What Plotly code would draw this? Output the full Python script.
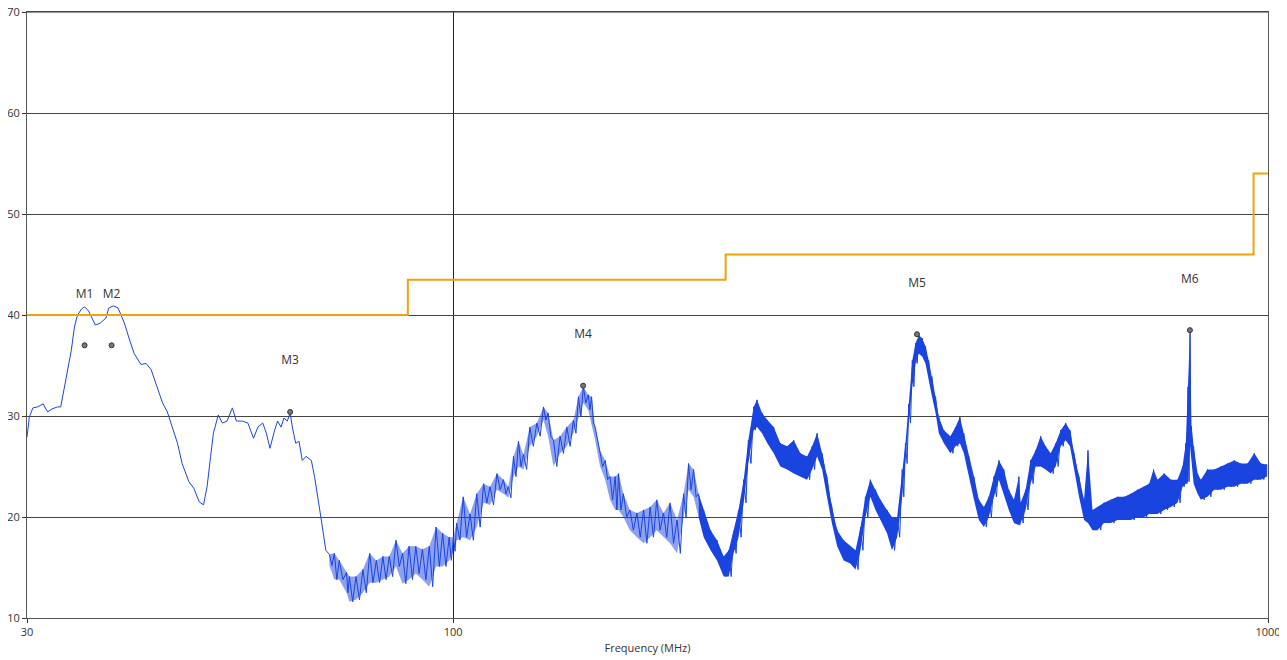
import plotly.graph_objects as go

# ---- smooth low-frequency part of the trace (MHz, dBuV/m) ----
smooth_freq = [30.0, 30.2, 30.5, 30.9, 31.4, 31.8, 32.2, 32.7, 33.0, 33.3, 33.7, 34.0, 34.3, 34.6,
               35.0, 35.3, 35.7, 36.4, 36.9, 37.5, 37.8, 38.3, 38.8, 39.5, 40.1, 40.6, 41.4, 42.0,
               42.6, 43.4, 44.0, 44.6, 45.2, 45.9, 46.5, 47.4, 48.1, 48.8, 49.4, 49.9, 50.4, 50.8,
               51.5, 52.1, 52.8, 53.6, 54.2, 55.1, 56.0, 56.9, 57.6, 58.4, 59.0, 59.6, 60.4, 60.9,
               61.5, 62.0, 62.6, 63.1, 63.5, 64.1, 64.7, 65.3, 66.0, 67.0, 67.6, 68.2, 68.7, 69.2, 69.8]
smooth_db = [27.9, 29.9, 30.8, 30.9, 31.2, 30.4, 30.7, 30.9, 30.9, 32.6, 35.2, 36.5, 38.8, 40.0,
             40.6, 40.8, 40.4, 39.0, 39.2, 39.7, 40.7, 40.9, 40.7, 39.2, 37.5, 36.2, 35.1, 35.2,
             34.6, 32.6, 31.3, 30.4, 28.9, 27.3, 25.3, 23.5, 22.8, 21.5, 21.2, 23.0, 26.0, 28.3,
             30.1, 29.3, 29.5, 30.8, 29.5, 29.5, 29.3, 27.8, 28.9, 29.3, 28.3, 26.8, 28.6, 29.5,
             28.9, 29.8, 29.5, 30.3, 28.9, 27.3, 27.5, 25.6, 26.0, 25.6, 24.0, 22.2, 20.4, 18.7, 16.7]

# ---- noisy part of the trace: frequency, upper and lower edge of the noise band ----
noisy_freq = [70.5, 71.5, 72.5, 74.0, 74.6, 76.0, 77.5, 79.0, 80.5, 82.0, 83.5, 85.1, 86.7, 88.3,
              90.0, 91.7, 93.5, 95.3, 97.1, 98.9, 100.1, 101.0, 102.9, 104.9, 106.9, 109.0, 111.0,
              113.2, 115.3, 116.9, 118.6, 120.3, 122.0, 124.2, 126.7, 129.1, 130.8, 132.8, 135.3,
              137.9, 140.5, 142.5, 144.5, 146.5, 147.9, 149.4, 151.5, 153.7, 155.8, 158.1, 159.6,
              161.8, 164.8, 168.1, 171.3, 174.5, 177.8, 181.2, 184.6, 188.3, 191.8, 194.5, 197.3,
              200.1, 203.0, 207.0, 210.8, 214.8, 217.9, 220.9, 224.0, 227.3, 230.3, 233.8, 236.0,
              239.4, 243.0, 247.4, 252.1, 257.0, 261.8, 266.8, 271.9, 275.8, 279.7, 283.7, 287.6,
              291.6, 296.0, 301.5, 307.2, 311.8, 316.2, 320.6, 325.1, 329.9, 334.5, 340.8, 345.6,
              350.7, 355.7, 359.0, 362.4, 366.0, 369.4, 372.8, 376.4, 379.9, 383.4, 387.0, 390.9,
              394.5, 400.2, 407.6, 413.6, 418.7, 423.4, 429.4, 435.7, 441.8, 448.1, 454.4, 461.0,
              467.5, 474.1, 480.8, 487.8, 494.7, 497.1, 504.1, 511.3, 518.7, 526.0, 533.5, 541.1,
              548.9, 556.7, 564.6, 571.5, 578.1, 586.3, 594.6, 601.3, 609.0, 617.6, 629.1, 641.0,
              653.6, 666.0, 678.6, 691.6, 704.7, 714.8, 723.7, 731.9, 745.8, 760.1, 774.4, 785.5,
              792.7, 797.8, 802.3, 805.5, 810.5, 819.6, 827.2, 842.7, 859.0, 875.4, 891.9, 909.0,
              926.3, 943.8, 961.9, 980.2, 996.3]
noisy_hi = [16.3, 16.4, 15.7, 14.5, 14.1, 14.1, 14.8, 16.4, 15.7, 16.1, 16.1, 17.7, 16.4, 17.1,
            17.1, 16.8, 17.1, 19.0, 18.4, 18.0, 18.0, 19.4, 22.0, 20.3, 22.3, 23.3, 23.0,
            24.3, 23.7, 23.0, 26.0, 27.5, 26.2, 28.9, 29.3, 30.9, 30.3, 27.6, 28.0,
            28.9, 29.6, 31.9, 32.9, 32.1, 31.9, 28.9, 26.6, 25.6, 24.0, 24.0, 24.3,
            22.3, 20.7, 20.4, 20.7, 21.0, 21.7, 20.4, 21.4, 19.7, 22.3, 25.3, 24.7,
            22.3, 20.7, 18.7, 17.7, 16.1, 16.7, 18.6, 20.7, 23.7, 27.6, 30.9, 31.6,
            30.3, 29.6, 28.9, 27.3, 27.0, 27.6, 26.3, 26.0, 27.0, 28.3, 26.3, 24.0,
            21.0, 18.7, 17.7, 17.1, 16.7, 19.0, 22.0, 23.7, 22.7, 21.7, 20.7, 20.0,
            20.0, 24.7, 27.3, 31.2, 35.5, 37.2, 38.0, 37.7, 36.9, 35.5, 33.9, 31.9,
            29.9, 28.6, 28.0, 28.9, 29.9, 28.3, 26.0, 24.0, 21.7, 21.0, 22.0, 24.0,
            25.6, 24.7, 22.7, 21.7, 24.0, 21.4, 22.7, 25.6, 26.6, 28.0, 27.0, 26.3,
            27.3, 28.6, 29.3, 28.6, 26.3, 24.0, 21.7, 26.6, 20.7, 21.0, 21.4, 21.7,
            22.0, 22.0, 22.3, 22.7, 23.0, 23.3, 24.7, 23.7, 24.3, 23.7, 23.7, 25.0,
            27.3, 32.9, 38.4, 29.0, 27.0, 24.3, 23.7, 24.7, 24.7, 25.0, 25.3, 25.6,
            25.3, 25.3, 26.3, 25.3, 25.2]
noisy_lo = [15.2, 13.8, 13.8, 12.5, 11.6, 11.8, 12.5, 13.5, 13.5, 13.8, 14.1, 15.1, 13.4, 13.8,
            14.4, 13.8, 13.1, 15.1, 15.1, 15.7, 16.6, 17.7, 18.0, 17.7, 19.0, 21.4, 21.2,
            22.7, 22.3, 21.9, 24.0, 25.0, 24.7, 27.0, 28.0, 29.6, 28.0, 25.0, 26.3,
            27.0, 28.3, 29.9, 31.3, 30.6, 29.3, 27.6, 25.0, 23.7, 21.7, 20.7, 20.7,
            20.0, 18.7, 18.0, 17.4, 18.0, 18.7, 18.0, 17.4, 16.4, 20.0, 22.7, 22.0,
            20.0, 18.0, 16.7, 15.7, 14.1, 14.1, 16.4, 18.0, 21.4, 25.3, 28.6, 28.9,
            28.3, 27.3, 26.3, 25.0, 24.7, 24.3, 24.0, 23.7, 24.7, 26.0, 24.7, 22.0,
            19.4, 17.1, 15.7, 15.4, 14.8, 16.7, 20.0, 22.0, 20.7, 19.7, 18.4, 16.7,
            18.0, 22.0, 25.3, 29.3, 32.9, 35.2, 36.2, 35.9, 35.2, 33.6, 31.9, 30.3,
            28.3, 27.3, 26.3, 27.0, 27.3, 26.3, 24.0, 21.7, 19.7, 19.0, 20.0, 22.0,
            23.7, 22.3, 20.7, 19.4, 19.2, 19.4, 20.7, 23.3, 25.0, 25.0, 24.7, 24.3,
            25.0, 27.0, 27.6, 27.0, 24.7, 22.0, 19.7, 19.4, 18.7, 18.7, 19.4, 19.4,
            19.7, 19.7, 19.7, 20.0, 20.0, 20.3, 20.3, 20.3, 20.7, 21.0, 21.4, 23.0,
            23.3, 23.5, 27.0, 25.6, 23.3, 22.3, 21.7, 22.0, 22.7, 22.7, 23.0, 23.0,
            23.3, 23.3, 23.7, 23.7, 24.0]

# ---- FCC class B limit line ----
limit_freq = [30, 88, 216, 960, 1000]
limit_db = [40.0, 43.5, 46.0, 54.0, 54.0]

# ---- markers ----
marker_names = ["M1", "M2", "M3", "M4", "M5", "M6"]
marker_freq = [35.3, 38.1, 63.1, 144.4, 370.9, 802.0]
marker_db = [37.0, 37.0, 30.4, 33.0, 38.1, 38.5]
label_offset_db = 5.0

x_ticks = [30, 100, 1000]
y_ticks = [10, 20, 30, 40, 50, 60, 70]
dense_from_mhz = 200.0

BLUE = "#1a44e0"

# line through the noise band: upper edge at each reading, lower edge between readings
zig_x, zig_y = [], []
n = len(noisy_freq)
for i in range(n):
    zig_x.append(noisy_freq[i])
    zig_y.append(noisy_hi[i])
    if i + 1 < n:
        zig_x.append((noisy_freq[i] * noisy_freq[i + 1]) ** 0.5)
    else:
        zig_x.append(noisy_freq[i])
    zig_y.append(noisy_lo[i])

fig = go.Figure()

# noise band body: sparse region lighter, dense region solid
idx_sparse = [i for i, f in enumerate(noisy_freq) if f <= dense_from_mhz + 1]
idx_dense = [i for i, f in enumerate(noisy_freq) if f >= dense_from_mhz - 1]
for idx, alpha in ((idx_sparse, 0.5), (idx_dense, 1.0)):
    fx = [noisy_freq[i] for i in idx]
    fh = [noisy_hi[i] for i in idx]
    fl = [noisy_lo[i] for i in idx]
    fig.add_trace(go.Scatter(
        x=fx + fx[::-1], y=fh + fl[::-1],
        fill="toself", fillcolor=f"rgba(26,68,224,{alpha})", line=dict(width=0),
        mode="lines", hoverinfo="skip", showlegend=False))

# trace line
fig.add_trace(go.Scatter(
    x=smooth_freq + zig_x, y=smooth_db + zig_y, mode="lines",
    line=dict(color=BLUE, width=1), showlegend=False))

# limit line
fig.add_trace(go.Scatter(
    x=limit_freq, y=limit_db, mode="lines", line=dict(color="#f0a30a", width=2, shape="hv"),
    showlegend=False))

# marker dots
fig.add_trace(go.Scatter(
    x=marker_freq, y=marker_db, mode="markers",
    marker=dict(symbol="circle", size=5, color="#777777", line=dict(color="#333333", width=1)),
    showlegend=False))

# marker labels
fig.add_trace(go.Scatter(
    x=marker_freq, y=[v + label_offset_db for v in marker_db], mode="text",
    text=marker_names, textfont=dict(family="Open Sans, sans-serif", size=12, color="#333333"),
    showlegend=False))

# top frame line
fig.add_shape(type="line", xref="paper", yref="paper", x0=0, x1=1, y0=1, y1=1,
              line=dict(color="#333333", width=1), layer="above")

# the page body adds an 8px offset, so margins are reduced by 8px on left/top
fig.update_layout(
    width=1287, height=660,
    margin=dict(l=19, r=27, t=4, b=50, autoexpand=False),
    paper_bgcolor="white", plot_bgcolor="white",
    font=dict(family="Open Sans, sans-serif", size=11, color="#333333"),
    xaxis=dict(
        type="log", range=[1.4771213, 3.0], tickvals=x_ticks, ticktext=[str(v) for v in x_ticks],
        showgrid=True, gridcolor="#222222", gridwidth=1, automargin=False,
        showline=True, linecolor="#555555", linewidth=1, mirror=True,
        ticks="outside", ticklen=4, tickcolor="#333333", zeroline=False,
        title=dict(text="Frequency (MHz)", font=dict(size=11, color="#333333"), standoff=6),
        tickfont=dict(size=11, color="#333333")),
    yaxis=dict(
        range=[10, 70], tickvals=y_ticks, showgrid=True, gridcolor="#444444", gridwidth=1,
        automargin=False, ticklabeloverflow="allow",
        showline=True, linecolor="#555555", linewidth=1, mirror=True,
        ticks="outside", ticklen=4, tickcolor="#333333", zeroline=False,
        tickfont=dict(size=11, color="#333333")),
)

fig.write_html("out.html")
